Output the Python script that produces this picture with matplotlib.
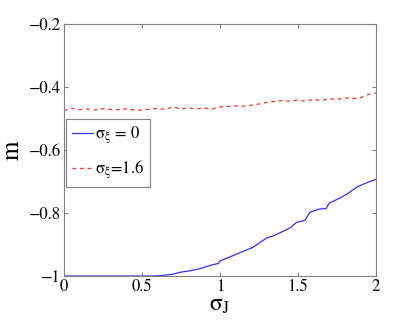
import matplotlib
matplotlib.use('Agg')
from matplotlib import pyplot as plt

plt.rcParams['font.family'] = ['STIXGeneral', 'DejaVu Serif']
plt.rcParams['mathtext.fontset'] = 'stix'

# sigma_xi = 0 curve
sj_blue = [0.0, 0.2, 0.4, 0.55, 0.615, 0.7, 0.744, 0.8, 0.87, 0.94, 0.99, 1.0, 1.02,
           1.1, 1.21, 1.3, 1.35, 1.45, 1.49, 1.545, 1.577, 1.64, 1.68, 1.7, 1.77,
           1.82, 1.876, 1.93, 2.0]
m_blue = [-1.0, -1.0, -1.0, -1.0, -0.999, -0.994, -0.988, -0.984, -0.977, -0.966, -0.96, -0.953, -0.948,
          -0.932, -0.909, -0.879, -0.871, -0.847, -0.830, -0.823, -0.797, -0.787, -0.786, -0.769, -0.752,
          -0.738, -0.718, -0.706, -0.693]

# sigma_xi = 1.6 curve
sj_red = [0.0, 0.05, 0.1, 0.15, 0.2, 0.25, 0.3, 0.35, 0.4, 0.45, 0.5, 0.55, 0.6, 0.65,
          0.7, 0.75, 0.8, 0.85, 0.9, 0.95, 1.0, 1.05, 1.1, 1.15, 1.2, 1.25, 1.3, 1.35,
          1.4, 1.45, 1.5, 1.55, 1.6, 1.65, 1.7, 1.75, 1.8, 1.85, 1.9, 1.95, 2.0]
m_red = [-0.474, -0.468, -0.472, -0.470, -0.473, -0.469, -0.471, -0.472, -0.469, -0.473, -0.474, -0.470, -0.468, -0.471,
         -0.463, -0.470, -0.466, -0.469, -0.467, -0.470, -0.463, -0.462, -0.460, -0.461, -0.458, -0.454, -0.449, -0.446,
         -0.443, -0.445, -0.441, -0.446, -0.439, -0.443, -0.437, -0.440, -0.434, -0.437, -0.434, -0.424, -0.419]

fig = plt.figure(figsize=(4.15, 3.24), dpi=100)
ax = fig.add_axes([0.154, 0.148, 0.752, 0.778])
ax.plot(sj_blue, m_blue, color='#3030ff', lw=0.9, label='σ$_{\\mathrm{ξ}}$ = 0')
ax.plot(sj_red, m_red, color='#ff3030', lw=0.9, ls='--', dashes=(3, 3), label='σ$_{\\mathrm{ξ}}$=1.6')

ax.set_xlim(0, 2)
ax.set_ylim(-1, -0.2)
ax.set_xticks([0, 0.5, 1, 1.5, 2])
ax.set_xticklabels(['0', '0.5', '1', '1.5', '2'])
ax.set_yticks([-1, -0.8, -0.6, -0.4, -0.2])
ax.set_yticklabels(['\u22121', '\u22120.8', '\u22120.6', '\u22120.4', '\u22120.2'])
ax.tick_params(direction='in', top=True, right=True, length=3, labelsize=12,
               color='#808080', pad=2)
for s in ax.spines.values():
    s.set_color('#808080')

ax.set_xlabel('σ$_{\\mathrm{J}}$', fontsize=17, labelpad=0)
ax.set_ylabel('m', fontsize=18)
ax.yaxis.set_label_coords(-0.125, 0.5)

leg = ax.legend(loc='upper left', bbox_to_anchor=(0.008, 0.625), fontsize=12,
                fancybox=False, framealpha=1, edgecolor='#808080', handlelength=1.25,
                handletextpad=0.1, borderpad=0.35, labelspacing=0.75, borderaxespad=0)
leg.get_frame().set_linewidth(0.8)

fig.savefig('out.png', dpi=100)
